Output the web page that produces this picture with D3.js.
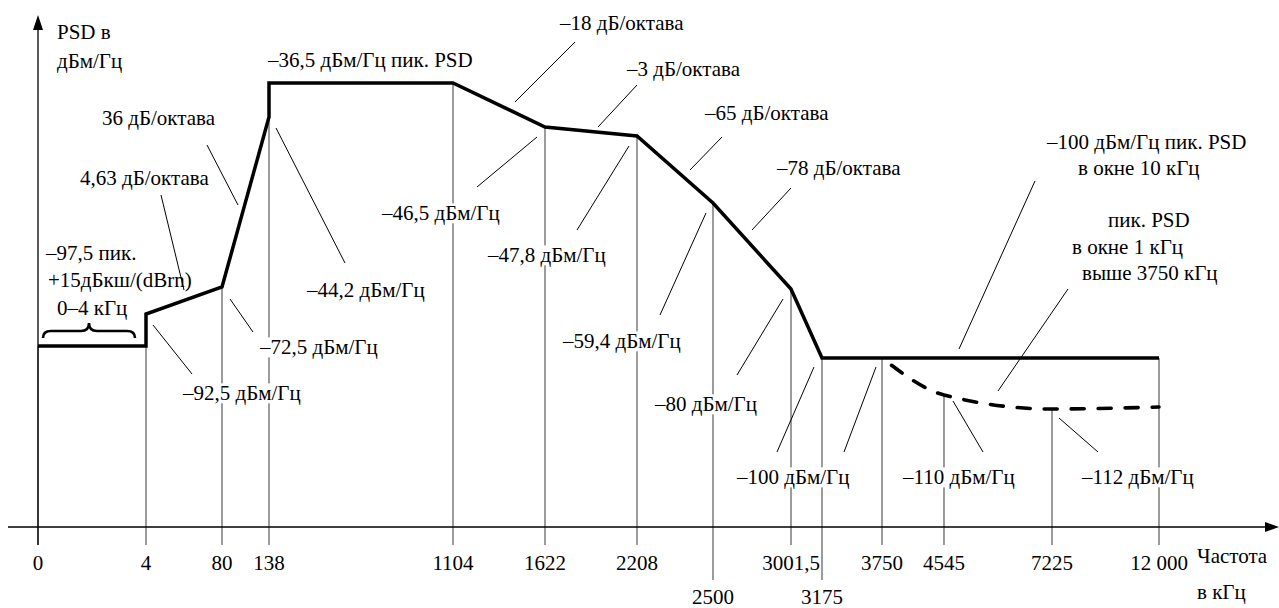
<!DOCTYPE html>
<html>
<head>
<meta charset="utf-8">
<script src="https://cdn.jsdelivr.net/npm/d3@7/dist/d3.min.js"></script>
<style>
  html, body { margin: 0; padding: 0; background: #fff; }
</style>
</head>
<body>
<svg id="chart" width="1279" height="608" font-family="'Liberation Serif', 'Times New Roman', Times, serif" font-size="21"></svg>
<script>
// ---- data ----
const freqTicks  = [0, 4, 80, 138, 1104, 1622, 2208, 2500, 3001.5, 3175, 3750, 4545, 7225, 12000];
const freqLabels = ["0", "4", "80", "138", "1104", "1622", "2208", "2500", "3001,5", "3175", "3750", "4545", "7225", "12 000"];
const tickRow    = [0, 0, 0, 0, 0, 0, 0, 1, 0, 1, 0, 0, 0, 0];           // 1 = label on second row
const tickTopPsd = [-97.5, -97.5, -72.5, -36.5, -36.5, -46.5, -47.8, -59.4, -80, -100, -100, -110, -112, -100];

const maskFreq = [0, 4, 4, 80, 138, 138, 1104, 1622, 2208, 2500, 3001.5, 3175, 12000];
const maskPsd  = [-97.5, -97.5, -92.5, -72.5, -44.2, -36.5, -36.5, -46.5, -47.8, -59.4, -80, -100, -100];

const windowFreq = [3750, 4545, 7225, 12000];
const windowPsd  = [-100, -110, -112, -111.5];

// annotation texts
const noteTexts = ["PSD в", "дБм/Гц", "–36,5 дБм/Гц пик. PSD", "36 дБ/октава", "4,63 дБ/октава",
  "–97,5 пик.", "+15дБкш/(dBrn)", "0–4 кГц", "–72,5 дБм/Гц", "–92,5 дБм/Гц", "–44,2 дБм/Гц",
  "–46,5 дБм/Гц", "–47,8 дБм/Гц", "–59,4 дБм/Гц", "–80 дБм/Гц", "–100 дБм/Гц", "–110 дБм/Гц",
  "–112 дБм/Гц", "–18 дБ/октава", "–3 дБ/октава", "–65 дБ/октава", "–78 дБ/октава",
  "–100 дБм/Гц пик. PSD", "в окне 10 кГц", "пик. PSD", "в окне 1 кГц", "выше 3750 кГц",
  "Частота", "в кГц"];

// ---- layout (schematic, non-uniform axes) ----
const xLayout = [38, 146, 222, 269, 453, 545, 637, 713, 791, 822, 882, 944, 1052, 1159];
const yLevels = [-112, -111.5, -110, -100, -97.5, -92.5, -80, -72.5, -59.4, -47.8, -46.5, -44.2, -36.5];
const yLayout = [409, 407, 395, 358, 346, 314, 289, 287, 203, 136, 127, 117, 83];
const axisY = 527, axisX = 38;

const notePos = [
  [57, 32], [57, 61], [268, 60], [102, 118], [80, 178],
  [46, 253], [48, 280], [57, 308], [260, 347], [183, 393], [307, 290],
  [382, 213], [488, 255], [563, 341], [655, 404], [737, 477], [903, 477],
  [1082, 477], [560, 23], [627, 69], [705, 113], [777, 168],
  [1047, 142], [1078, 168], [1108, 220], [1072, 247], [1082, 273],
  [1197, 556], [1197, 592]];
const leaders = [
  [207,145,238,205], [161,195,184,290], [276,128,345,263], [230,299,253,332], [153,325,192,374],
  [575,42,515,102], [637,85,598,127], [537,137,477,187], [629,146,577,230], [706,213,660,315],
  [722,137,690,170], [791,188,752,230], [783,299,737,375], [814,367,777,452], [876,367,844,452],
  [953,401,983,452], [1059,418,1098,452], [1035,181,959,349], [1068,289,998,391]];

// ---- scales ----
const x = d3.scaleLinear().domain(freqTicks).range(xLayout);
const y = d3.scaleLinear().domain(yLevels).range(yLayout);

const svg = d3.select("#chart");

// drop lines
svg.append("g").selectAll("line").data(freqTicks).join("line")
  .attr("x1", d => x(d)).attr("x2", d => x(d))
  .attr("y1", (d, i) => y(tickTopPsd[i]))
  .attr("y2", (d, i) => tickRow[i] ? 580 : 545)
  .attr("stroke", "#666").attr("stroke-width", 1.3);

// axes
svg.append("line").attr("x1", 8).attr("x2", 1268).attr("y1", axisY).attr("y2", axisY)
  .attr("stroke", "#000").attr("stroke-width", 1.3);
svg.append("path").attr("d", `M1279,${axisY} L1265,${axisY - 5} L1265,${axisY + 5} Z`).attr("fill", "#000");
svg.append("line").attr("x1", axisX).attr("x2", axisX).attr("y1", 28).attr("y2", 545)
  .attr("stroke", "#000").attr("stroke-width", 1.3);
svg.append("path").attr("d", `M${axisX},15 L${axisX - 5},30 L${axisX + 5},30 Z`).attr("fill", "#000");

// tick labels
svg.append("g").selectAll("text").data(freqLabels).join("text")
  .attr("x", (d, i) => x(freqTicks[i]))
  .attr("y", (d, i) => tickRow[i] ? 597 : 563)
  .attr("dy", "0.35em")
  .attr("text-anchor", "middle")
  .text(d => d);

// annotation texts with white backgrounds
const noteG = svg.append("g");
noteTexts.forEach((t, i) => {
  const g = noteG.append("g");
  const txt = g.append("text").attr("x", notePos[i][0]).attr("y", notePos[i][1]).attr("dy", "0.35em").text(t);
  const bb = txt.node().getBBox();
  g.insert("rect", "text").attr("x", bb.x - 2).attr("y", bb.y + 2).attr("width", bb.width + 4)
    .attr("height", bb.height - 4).attr("fill", "#fff");
});

// leaders
svg.append("g").selectAll("line").data(leaders).join("line")
  .attr("x1", d => d[0]).attr("y1", d => d[1]).attr("x2", d => d[2]).attr("y2", d => d[3])
  .attr("stroke", "#000").attr("stroke-width", 1);

// brace over 0–4 kHz
const bx0 = x(0) + 5, bx1 = x(4) - 11, bm = (bx0 + bx1) / 2, bTop = 323, bArm = 331, bEnd = 338;
svg.append("path")
  .attr("d", `M${bx0},${bEnd} Q${bx0},${bArm} ${bx0 + 8},${bArm} L${bm - 8},${bArm} Q${bm},${bArm} ${bm},${bTop}
              Q${bm},${bArm} ${bm + 8},${bArm} L${bx1 - 8},${bArm} Q${bx1},${bArm} ${bx1},${bEnd}`)
  .attr("fill", "none").attr("stroke", "#000").attr("stroke-width", 2.6);

// PSD mask
const line = d3.line().x(d => x(d[0])).y(d => y(d[1]));
svg.append("path").datum(maskFreq.map((f, i) => [f, maskPsd[i]]))
  .attr("d", line).attr("fill", "none").attr("stroke", "#000").attr("stroke-width", 3.5)
  .attr("stroke-linejoin", "miter");

// 1 kHz window (dashed)
svg.append("path").datum(windowFreq.map((f, i) => [f, windowPsd[i]]))
  .attr("d", d3.line().x(d => x(d[0])).y(d => y(d[1])).curve(d3.curveMonotoneX))
  .attr("fill", "none").attr("stroke", "#000").attr("stroke-width", 3.6)
  .attr("stroke-dasharray", "13,14").attr("stroke-dashoffset", 15).attr("stroke-linecap", "round");
</script>
</body>
</html>
